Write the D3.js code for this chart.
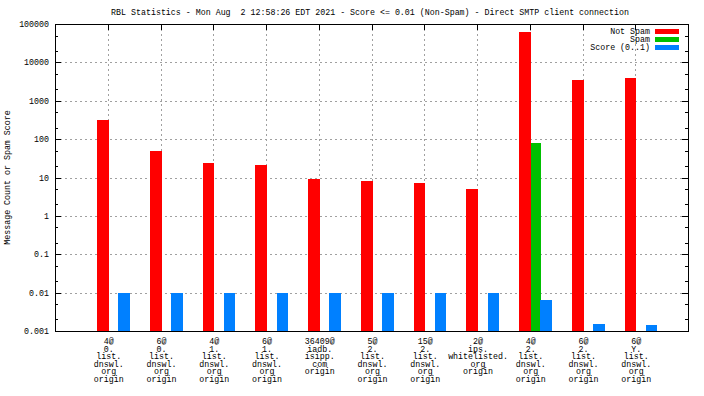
<!DOCTYPE html>
<html>
<head>
<meta charset="utf-8">
<script src="https://cdn.jsdelivr.net/npm/d3@7"></script>
<style>
    body { margin: 0; background: #fff; }
    text { font-family: "Liberation Mono", "DejaVu Sans Mono", monospace; font-size: 8.3px; fill: #000; }
</style>
</head>
<body>
<svg id="Target" width="704" height="396"></svg>
<script>

const title = "RBL Statistics - Mon Aug  2 12:58:26 EDT 2021 - Score <= 0.01 (Non-Spam) - Direct SMTP client connection";
const yTitle = "Message Count or Spam Score";

const categories = [
    ["4@", "0.", "list.", "dnswl.", "org", "origin"],
    ["6@", "0.", "list.", "dnswl.", "org", "origin"],
    ["4@", "1.", "list.", "dnswl.", "org", "origin"],
    ["6@", "1.", "list.", "dnswl.", "org", "origin"],
    ["36409@", "iadb.", "isipp.", "com", "origin"],
    ["5@", "2.", "list.", "dnswl.", "org", "origin"],
    ["15@", "2.", "list.", "dnswl.", "org", "origin"],
    ["2@", "ips.", "whitelisted.", "org", "origin"],
    ["4@", "2.", "list.", "dnswl.", "org", "origin"],
    ["6@", "2.", "list.", "dnswl.", "org", "origin"],
    ["6@", "Y.", "list.", "dnswl.", "org", "origin"]
];

const notSpam = [310, 50, 24, 21, 9, 8, 7, 5, 62000, 3500, 3900];
const spam = [null, null, null, null, null, null, null, null, 79, null, null];
const score = [0.01, 0.01, 0.01, 0.01, 0.01, 0.01, 0.01, 0.01, 0.0065, 0.0015, 0.0014];

const yTicks = [100000, 10000, 1000, 100, 10, 1, 0.1, 0.01, 0.001];
const yTickLabels = ["100000", "10000", "1000", "100", "10", "1", "0.1", "0.01", "0.001"];

const seriesNames = ["Not Spam", "Spam", "Score (0..1)"];
const seriesColors = ["#ff0000", "#00c000", "#0080ff"];

const plotLeft = 55, plotRight = 688, plotTop = 24, plotBottom = 331;

const svg = d3.select("#Target");

const x = d3.scaleLinear().domain([-1, 11]).range([plotLeft, plotRight]);
const y = d3.scaleLog().domain([0.001, 100000]).range([plotBottom, plotTop]);

// bar offsets from category centre, data units
const offsets = [[-0.2, 0.022], [0.022, 0.21], [0.2, 0.42]];

// grid
const grid = svg.append("g")
    .attr("stroke", "#a0a0a0")
    .attr("stroke-dasharray", "2,3")
    .attr("shape-rendering", "crispEdges");

grid.selectAll("line.h")
    .data(yTicks.slice(1, -1))
    .enter()
    .append("line")
    .attr("x1", plotLeft)
    .attr("x2", plotRight)
    .attr("y1", d => Math.round(y(d)) + 0.5)
    .attr("y2", d => Math.round(y(d)) + 0.5);

grid.selectAll("line.v")
    .data(categories)
    .enter()
    .append("line")
    .attr("x1", (d, i) => Math.round(x(i)) + 0.5)
    .attr("x2", (d, i) => Math.round(x(i)) + 0.5)
    .attr("y1", plotTop)
    .attr("y2", plotBottom);

// bars
const series = [notSpam, spam, score];

series.forEach((values, s) => {

    svg.append("g")
        .attr("fill", seriesColors[s])
        .attr("shape-rendering", "crispEdges")
        .selectAll("rect")
        .data(values.map((v, i) => ({ v, i })).filter(d => d.v !== null))
        .enter()
        .append("rect")
        .attr("x", d => Math.round(x(d.i + offsets[s][0])))
        .attr("width", d => Math.round(x(d.i + offsets[s][1])) - Math.round(x(d.i + offsets[s][0])))
        .attr("y", d => Math.round(y(d.v)))
        .attr("height", d => plotBottom - Math.round(y(d.v)));
});

// ticks
const ticks = svg.append("g")
    .attr("stroke", "#000")
    .attr("shape-rendering", "crispEdges");

const minor = [];
for (let e = -3; e < 5; e++) {
    minor.push(2 * Math.pow(10, e), 5 * Math.pow(10, e));
}

const tickRows = yTicks.map(v => ({ v, len: 6 })).concat(minor.map(v => ({ v, len: 3 })));

ticks.selectAll("line.yl")
    .data(tickRows)
    .enter()
    .append("line")
    .attr("x1", plotLeft)
    .attr("x2", d => plotLeft + d.len)
    .attr("y1", d => Math.round(y(d.v)) + 0.5)
    .attr("y2", d => Math.round(y(d.v)) + 0.5);

ticks.selectAll("line.yr")
    .data(tickRows)
    .enter()
    .append("line")
    .attr("x1", plotRight)
    .attr("x2", d => plotRight - d.len)
    .attr("y1", d => Math.round(y(d.v)) + 0.5)
    .attr("y2", d => Math.round(y(d.v)) + 0.5);

ticks.selectAll("line.xt")
    .data(categories)
    .enter()
    .append("line")
    .attr("x1", (d, i) => Math.round(x(i)) + 0.5)
    .attr("x2", (d, i) => Math.round(x(i)) + 0.5)
    .attr("y1", plotTop)
    .attr("y2", plotTop + 6);

// border
svg.append("rect")
    .attr("x", plotLeft + 0.5)
    .attr("y", plotTop + 0.5)
    .attr("width", plotRight - plotLeft)
    .attr("height", plotBottom - plotTop)
    .attr("fill", "none")
    .attr("stroke", "#000")
    .attr("shape-rendering", "crispEdges");

// y labels
svg.append("g")
    .selectAll("text")
    .data(yTicks)
    .enter()
    .append("text")
    .attr("x", 49)
    .attr("y", d => y(d) + 3)
    .attr("text-anchor", "end")
    .text((d, i) => yTickLabels[i]);

// x labels
const xLabels = svg.append("g")
    .selectAll("text")
    .data(categories)
    .enter()
    .append("text")
    .attr("text-anchor", "middle")
    .attr("transform", (d, i) => `translate(${x(i) + 1}, 0)`);

xLabels.selectAll("tspan")
    .data(d => d)
    .enter()
    .append("tspan")
    .attr("x", 0)
    .attr("y", (d, j) => 344 + j * 7.6)
    .text(d => d);

// titles
svg.append("text")
    .attr("x", 370)
    .attr("y", 15)
    .attr("text-anchor", "middle")
    .attr("xml:space", "preserve")
    .text(title);

svg.append("text")
    .attr("transform", `translate(10, ${(plotTop + plotBottom) / 2}) rotate(-90)`)
    .attr("text-anchor", "middle")
    .text(yTitle);

// legend
const legend = svg.append("g");

seriesNames.forEach((name, s) => {

    const cy = 31 + s * 8;

    legend.append("text")
        .attr("x", 650)
        .attr("y", cy + 3)
        .attr("text-anchor", "end")
        .attr("xml:space", "preserve")
        .text(name);

    legend.append("rect")
        .attr("x", 655)
        .attr("y", cy - 2)
        .attr("width", 24)
        .attr("height", 5)
        .attr("fill", seriesColors[s]);
});

</script>
</body>
</html>
